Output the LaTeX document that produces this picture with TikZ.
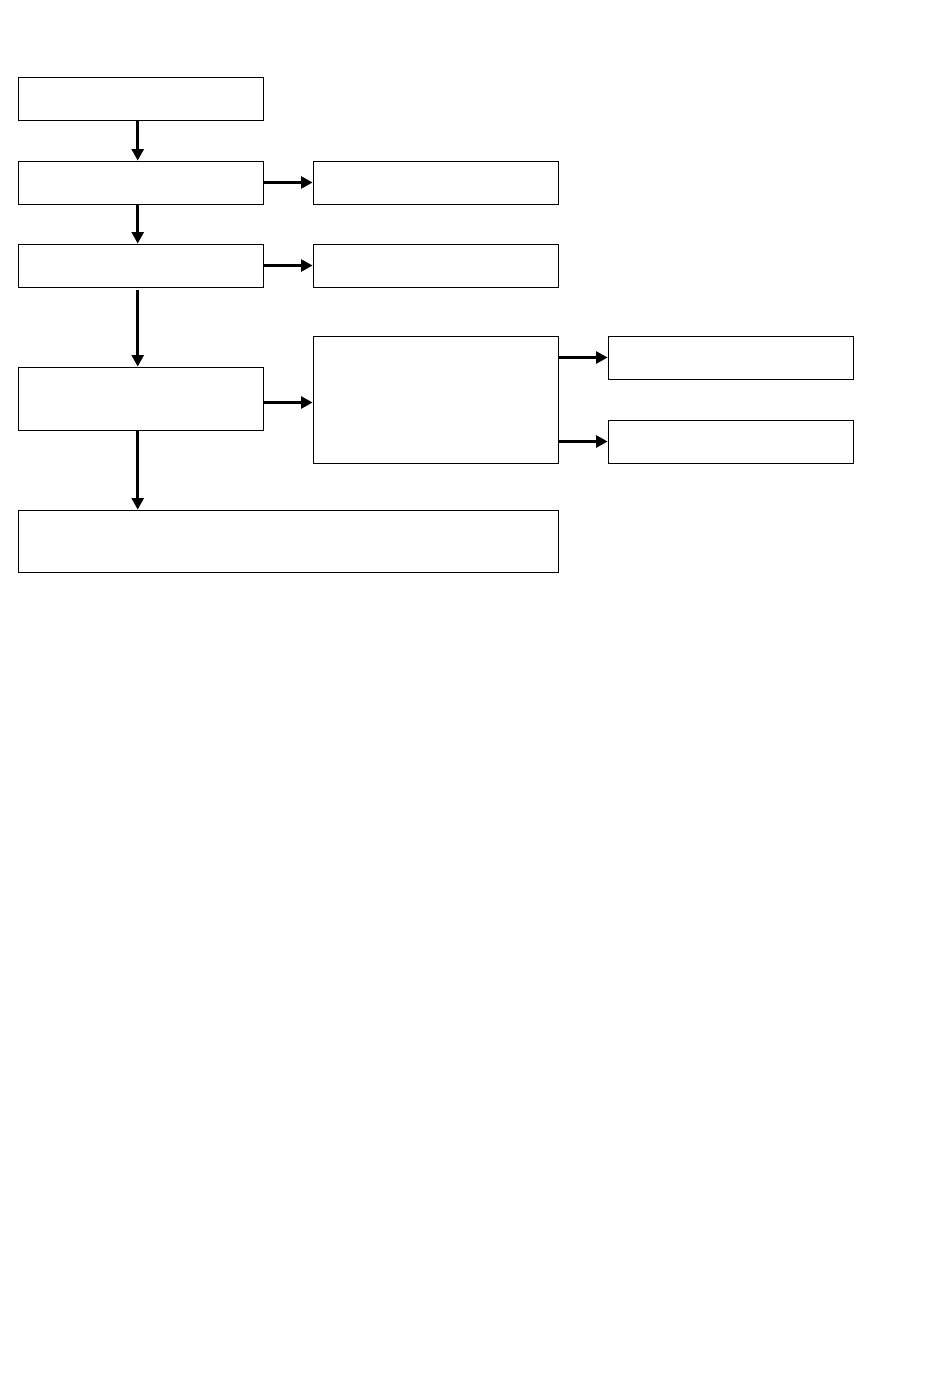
\documentclass[tikz,border=0pt]{standalone}
\usetikzlibrary{arrows.meta}
\tikzset{stage/.style = {draw, rectangle, line width=0.5pt, minimum width=4.9cm, minimum height=0.86cm, inner sep=0pt}}
\tikzset{tallstage/.style = {stage, minimum height=1.26cm}}
\tikzset{bigstage/.style = {stage, minimum height=2.54cm}}
\tikzset{widestage/.style = {stage, minimum width=10.8cm, minimum height=1.24cm}}
\tikzset{flow/.style = {-{Triangle[length=2.3mm, width=2.4mm]}, line width=1.4pt}}

\begin{document}
\begin{tikzpicture}[x=0.02cm, y=-0.02cm]
  \useasboundingbox (0,0) rectangle (950,1378);
  \node [stage] (start) at (140.5,98.5) {};
  \node [stage] (second) at (140.5,182.5) {};
  \node [stage] (secondside) at (435.5,182.5) {};
  \node [stage] (third) at (140.5,265.5) {};
  \node [stage] (thirdside) at (435.5,265.5) {};
  \node [tallstage] (fourth) at (140.5,398.5) {};
  \node [bigstage] (branch) at (435.5,399.5) {};
  \node [stage] (upper) at (730.5,357.5) {};
  \node [stage] (lower) at (730.5,441.5) {};
  \node [widestage] (final) at (288,541) {};

  % main line runs a little left of the box centres
  \coordinate (trunk) at (137.7,0);
  \coordinate (fourthout) at ([yshift=-0.08cm]fourth.east);

  \draw[flow] (start.south -| trunk) -- (second.north -| trunk);
  \draw[flow] (second) -- (secondside);
  \draw[flow] (second.south -| trunk) -- (third.north -| trunk);
  \draw[flow] (third) -- (thirdside);
  \draw[flow, shorten <=0.06cm] (third.south -| trunk) -- (fourth.north -| trunk);
  \draw[flow] (fourthout) -- (fourthout -| branch.west);
  \draw[flow] (branch.east |- upper) -- (upper);
  \draw[flow] (branch.east |- lower) -- (lower);
  \draw[flow] (fourth.south -| trunk) -- (final.north -| trunk);
\end{tikzpicture}
\end{document}
